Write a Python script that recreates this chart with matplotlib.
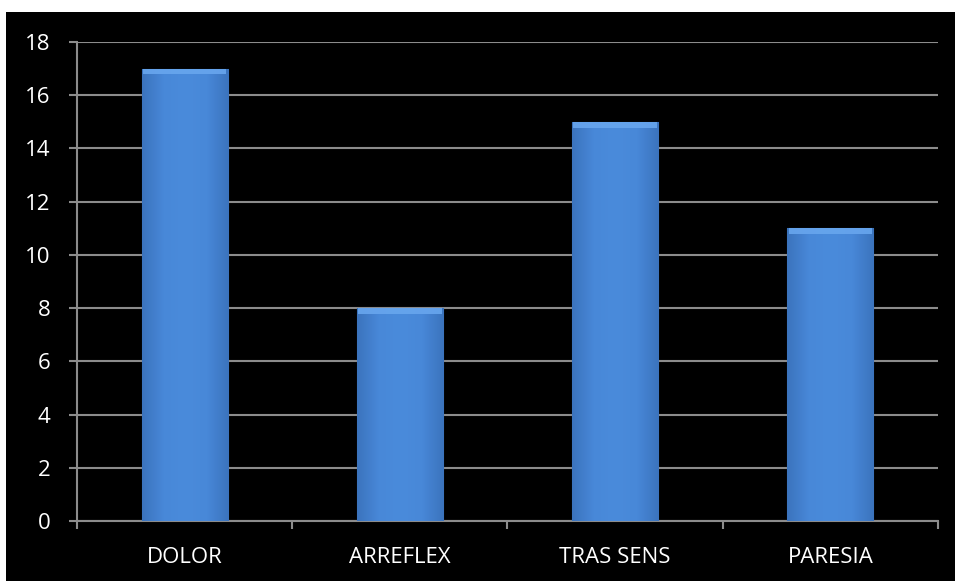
import numpy as np
import matplotlib.pyplot as plt
from matplotlib.colors import LinearSegmentedColormap

# symptom counts
categories = ["DOLOR", "ARREFLEX", "TRAS SENS", "PARESIA"]
counts = [17, 8, 15, 11]
y_ticks = [0, 2, 4, 6, 8, 10, 12, 14, 16, 18]

plt.rcParams['font.family'] = ['Open Sans', 'DejaVu Sans']

fig = plt.figure(figsize=(9.55, 5.81), dpi=100)
fig.patch.set_facecolor("white")
# black chart area with a thin white margin on the top and left
bg = plt.Rectangle((6 / 955, 0), 1, 1 - 12 / 581, transform=fig.transFigure,
                   facecolor="black", edgecolor="none", zorder=-10)
fig.patches.append(bg)
ax = fig.add_axes([0.0806, 0.1033, 0.9016, 0.8244])
ax.set_facecolor("black")

x = np.arange(len(categories))
bars = ax.bar(x, counts, width=0.4, color="#4686d6", edgecolor="#31629f", linewidth=0.8, zorder=3)

# soft horizontal shading across each bar
shade = LinearSegmentedColormap.from_list("shade", ["#3b73bd", "#4888d8", "#4a8bdb", "#4888d8", "#3b73bd"])
grad = np.linspace(0, 1, 256).reshape(1, -1)
for b in bars:
    bx, by = b.get_x(), b.get_y()
    bw, bh = b.get_width(), b.get_height()
    im = ax.imshow(grad, cmap=shade, aspect="auto", extent=(bx, bx + bw, by, by + bh), zorder=4)
    im.set_clip_path(b)
    # lighter bevel along the top
    ax.bar(bx + bw / 2, 0.22, width=bw * 0.97, bottom=by + bh - 0.22,
           color="#68a6ee", edgecolor="none", alpha=0.9, zorder=5)

ax.set_xlim(-0.5, len(categories) - 0.5)
ax.set_ylim(0, 18)
ax.set_yticks(y_ticks)
ax.set_xticks(x)
ax.set_xticklabels(categories)
ax.set_xticks(np.arange(len(categories) + 1) - 0.5, minor=True)

ax.yaxis.grid(True, color="#8c8c8c", linewidth=1.5, zorder=1)
ax.set_axisbelow(True)

for side in ["top", "right"]:
    ax.spines[side].set_visible(False)
for side in ["left", "bottom"]:
    ax.spines[side].set_color("#8c8c8c")
    ax.spines[side].set_linewidth(1.5)

ax.tick_params(axis="y", colors="#8c8c8c", labelcolor="white", labelsize=16, length=6, width=1.5, pad=13)
ax.tick_params(axis="x", which="major", length=0, labelcolor="white", labelsize=16, pad=19)
ax.tick_params(axis="x", which="minor", colors="#8c8c8c", length=6, width=1.5)

fig.savefig("out.png", dpi=100, facecolor=fig.get_facecolor())
